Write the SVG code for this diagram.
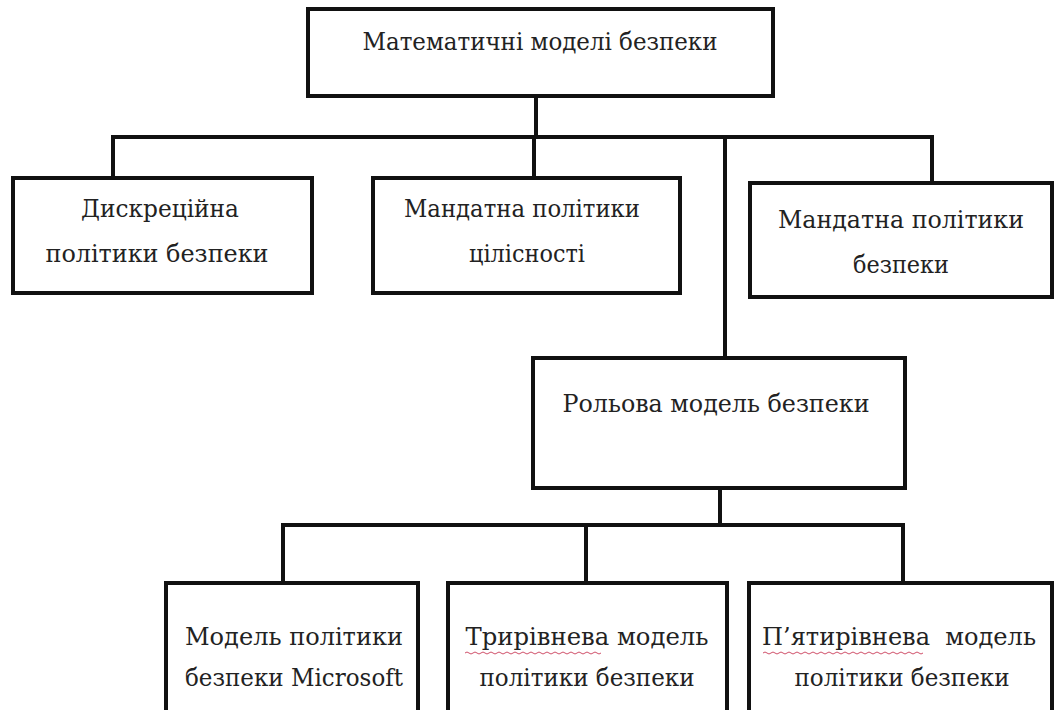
<svg xmlns="http://www.w3.org/2000/svg" width="1057" height="710" viewBox="0 0 1057 710">
<style>
.box{fill:#fff;stroke:#111;stroke-width:4}
.ln{fill:none;stroke:#111;stroke-width:4;stroke-linecap:square}
.t{font-family:'DejaVu Serif','Liberation Serif',serif;font-size:25px;fill:#222;text-anchor:middle}
.sq{fill:none;stroke:#d0506a;stroke-width:1}
</style>
<rect width="1057" height="710" fill="#fff"/>
<g id="connectors">
<path class="ln" d="M536 96V137M113 137H932M113 137V178M534 137V178M725 137V358M932 137V183"/>
<path class="ln" d="M720 488V525M283 525H903M283 525V583M586 525V583M903 525V583"/>
</g>
<g id="n-top"><rect class="box" x="308" y="9" width="465" height="87"/><text class="t" x="540" y="50" textLength="355" lengthAdjust="spacingAndGlyphs">Математичні моделі безпеки</text></g>
<g id="n-disc"><rect class="box" x="13" y="178" width="299" height="115"/><text class="t" x="160" y="217" textLength="158" lengthAdjust="spacingAndGlyphs">Дискреційна</text><text class="t" x="157" y="262" textLength="223" lengthAdjust="spacingAndGlyphs">політики безпеки</text></g>
<g id="n-mand-int"><rect class="box" x="373" y="178" width="307" height="115"/><text class="t" x="522" y="217" textLength="236" lengthAdjust="spacingAndGlyphs">Мандатна політики</text><text class="t" x="527" y="262" textLength="116" lengthAdjust="spacingAndGlyphs">цілісності</text></g>
<g id="n-mand-sec"><rect class="box" x="750" y="183" width="302" height="114"/><text class="t" x="901" y="228" textLength="246" lengthAdjust="spacingAndGlyphs">Мандатна політики</text><text class="t" x="901" y="273" textLength="96" lengthAdjust="spacingAndGlyphs">безпеки</text></g>
<g id="n-role"><rect class="box" x="533" y="358" width="372" height="130"/><text class="t" x="716" y="412" textLength="307" lengthAdjust="spacingAndGlyphs">Рольова модель безпеки</text></g>
<g id="n-ms"><rect class="box" x="166" y="583" width="252" height="132"/><text class="t" x="294" y="645" textLength="218" lengthAdjust="spacingAndGlyphs">Модель політики</text><text class="t" x="294" y="686" textLength="218" lengthAdjust="spacingAndGlyphs">безпеки Microsoft</text></g>
<g id="n-three"><rect class="box" x="448" y="583" width="279" height="132"/><text class="t" x="587" y="645" textLength="243" lengthAdjust="spacingAndGlyphs">Трирівнева модель</text><text class="t" x="587" y="686" textLength="215" lengthAdjust="spacingAndGlyphs">політики безпеки</text><path class="sq" d="M465 653q2-2 4 0t4 0t4 0t4 0t4 0t4 0t4 0t4 0t4 0t4 0t4 0t4 0t4 0t4 0t4 0t4 0t4 0t4 0t4 0t4 0t4 0t4 0t4 0t4 0t4 0t4 0t4 0t4 0t4 0t4 0t4 0t4 0t4 0t4 0"/></g>
<g id="n-five"><rect class="box" x="749" y="583" width="303" height="132"/><text class="t" x="899" y="645" xml:space="preserve" textLength="274" lengthAdjust="spacingAndGlyphs">П’ятирівнева  модель</text><text class="t" x="902" y="686" textLength="215" lengthAdjust="spacingAndGlyphs">політики безпеки</text><path class="sq" d="M763 653q2-2 4 0t4 0t4 0t4 0t4 0t4 0t4 0t4 0t4 0t4 0t4 0t4 0t4 0t4 0t4 0t4 0t4 0t4 0t4 0t4 0t4 0t4 0t4 0t4 0t4 0t4 0t4 0t4 0t4 0t4 0t4 0t4 0t4 0t4 0t4 0t4 0t4 0t4 0t4 0t4 0"/></g>
</svg>
